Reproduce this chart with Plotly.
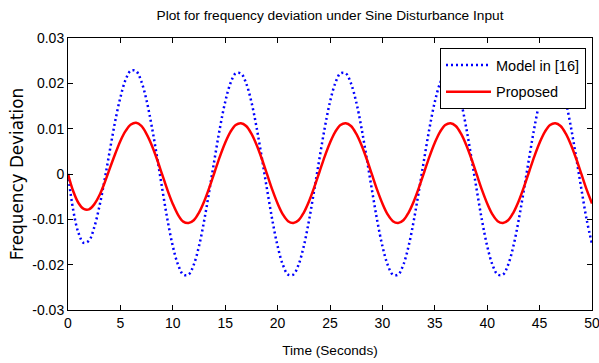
import plotly.graph_objects as go

# Time samples (seconds)
time_s = [i * 0.5 for i in range(101)]

# Model in [16] (blue dotted)
model16 = [
    0.0000, -0.0080, -0.0130, -0.0152, -0.0147, -0.0118, -0.0071, -0.0012, 0.0053, 0.0116,
    0.0169, 0.0208, 0.0228, 0.0227, 0.0204, 0.0162, 0.0104, 0.0037, -0.0034, -0.0102,
    -0.0159, -0.0200, -0.0222, -0.0222, -0.0200, -0.0159, -0.0102, -0.0035, 0.0035, 0.0102,
    0.0159, 0.0200, 0.0222, 0.0222, 0.0200, 0.0159, 0.0102, 0.0035, -0.0035, -0.0102,
    -0.0159, -0.0200, -0.0222, -0.0222, -0.0200, -0.0159, -0.0102, -0.0035, 0.0035, 0.0102,
    0.0159, 0.0200, 0.0222, 0.0222, 0.0200, 0.0159, 0.0102, 0.0035, -0.0035, -0.0102,
    -0.0159, -0.0200, -0.0222, -0.0222, -0.0200, -0.0159, -0.0102, -0.0035, 0.0035, 0.0102,
    0.0159, 0.0200, 0.0222, 0.0222, 0.0200, 0.0159, 0.0102, 0.0035, -0.0035, -0.0102,
    -0.0159, -0.0200, -0.0222, -0.0222, -0.0200, -0.0159, -0.0102, -0.0035, 0.0035, 0.0102,
    0.0159, 0.0200, 0.0222, 0.0222, 0.0200, 0.0159, 0.0102, 0.0035, -0.0035, -0.0102,
    -0.0154,
]

# Proposed (red solid)
proposed = [
    0.0000, -0.0038, -0.0064, -0.0077, -0.0078, -0.0067, -0.0047, -0.0019, 0.0013, 0.0044,
    0.0073, 0.0095, 0.0109, 0.0113, 0.0106, 0.0088, 0.0063, 0.0032, -0.0002, -0.0036,
    -0.0066, -0.0090, -0.0105, -0.0108, -0.0102, -0.0085, -0.0060, -0.0029, 0.0005, 0.0039,
    0.0069, 0.0093, 0.0108, 0.0112, 0.0106, 0.0089, 0.0064, 0.0033, -0.0001, -0.0035,
    -0.0065, -0.0089, -0.0104, -0.0108, -0.0102, -0.0085, -0.0060, -0.0029, 0.0005, 0.0039,
    0.0069, 0.0093, 0.0108, 0.0112, 0.0106, 0.0089, 0.0064, 0.0033, -0.0001, -0.0035,
    -0.0065, -0.0089, -0.0104, -0.0108, -0.0102, -0.0085, -0.0060, -0.0029, 0.0005, 0.0039,
    0.0069, 0.0093, 0.0108, 0.0112, 0.0106, 0.0089, 0.0064, 0.0033, -0.0001, -0.0035,
    -0.0065, -0.0089, -0.0104, -0.0108, -0.0102, -0.0085, -0.0060, -0.0029, 0.0005, 0.0039,
    0.0069, 0.0093, 0.0108, 0.0112, 0.0106, 0.0089, 0.0064, 0.0033, -0.0001, -0.0035,
    -0.0065,
]

x_ticks = [0, 5, 10, 15, 20, 25, 30, 35, 40, 45, 50]
y_ticks = [-0.03, -0.02, -0.01, 0, 0.01, 0.02, 0.03]
y_tick_labels = ["-0.03", "-0.02", "-0.01", "0", "0.01", "0.02", "0.03"]

font_main = "Liberation Sans, Arial, sans-serif"

fig = go.Figure()
fig.add_trace(go.Scatter(
    x=time_s, y=model16, mode="lines", name="Model in [16]", legendgroup="a",
    line=dict(color="#0000ff", width=2.5, dash="2px,3px", shape="spline"),
))
fig.add_trace(go.Scatter(
    x=time_s, y=proposed, mode="lines", name="Proposed", legendgroup="b",
    line=dict(color="#ff0000", width=2.5, shape="spline"),
))

axis_common = dict(
    showgrid=False, zeroline=False, showline=True, linecolor="black", linewidth=1,
    mirror="ticks", ticks="inside", ticklen=5, tickcolor="black", automargin=False,
    ticklabeloverflow="allow",
    tickfont=dict(family=font_main, size=14, color="black"),
)

fig.update_layout(
    width=599, height=363,
    margin=dict(l=68, r=7, t=38, b=53, autoexpand=False),
    paper_bgcolor="white", plot_bgcolor="white",
    title=dict(
        text="Plot for frequency deviation under Sine Disturbance Input",
        font=dict(family=font_main, size=13.7, color="black"),
        x=(68 + 592) / 2 / 599, xanchor="center", y=1 - 15 / 363, yanchor="middle",
    ),
    xaxis=dict(
        range=[0, 50], tickvals=x_ticks, **axis_common,
        title=dict(text="Time (Seconds)", font=dict(family=font_main, size=13.6, color="black"), standoff=15),
    ),
    yaxis=dict(
        range=[-0.03, 0.03], tickvals=y_ticks, ticktext=y_tick_labels, **axis_common,
        title=dict(text="Frequency Deviation", font=dict(family="DejaVu Sans", size=16.8, color="black"), standoff=4),
    ),
    legend=dict(
        x=(586 - 68) / 524, y=(310 - 48) / 272, xanchor="right", yanchor="top",
        bgcolor="white", bordercolor="black", borderwidth=1,
        font=dict(family=font_main, size=14.5, color="black"),
        tracegroupgap=5, itemwidth=45,
    ),
    showlegend=True,
)

fig.write_html(
    "out.html",
    config={"displayModeBar": False},
    post_script="document.body.style.margin='0';",
)
